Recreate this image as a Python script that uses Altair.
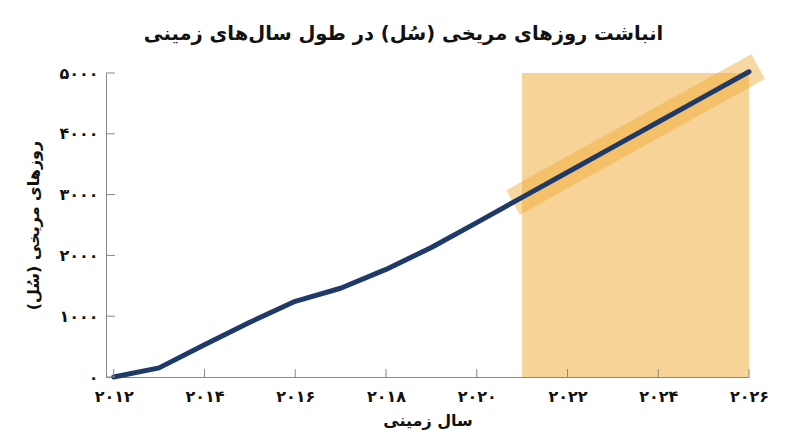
import altair as alt
import pandas as pd

# cumulative Martian sols at the start of each Earth year
years = [2012, 2013, 2014, 2015, 2016, 2017, 2018, 2019, 2020, 2021, 2022, 2023, 2024, 2025, 2026]
sols = [0, 150, 530, 900, 1245, 1460, 1770, 2130, 2540, 2955, 3368, 3781, 4194, 4607, 5020]

# shaded window and highlighted trend segment
window_years = [2021, 2026]
window_sols = [0, 5000]
band_years = [2020.8, 2026.2]
band_sols = [2870, 5105]

x_ticks = [2012, 2014, 2016, 2018, 2020, 2022, 2024, 2026]
x_tick_labels = ["۲۰۱۲", "۲۰۱۴", "۲۰۱۶", "۲۰۱۸", "۲۰۲۰", "۲۰۲۲", "۲۰۲۴", "۲۰۲۶"]
y_ticks = [0, 1000, 2000, 3000, 4000, 5000]
y_tick_labels = ["۰", "۱۰۰۰", "۲۰۰۰", "۳۰۰۰", "۴۰۰۰", "۵۰۰۰"]

title = "انباشت روزهای مریخی (سُل) در طول سال‌های زمینی"
x_title = "سال زمینی"
y_title = "روزهای مریخی (سُل)"

FONT = "DejaVu Sans"
W, H = 643, 304


def label_expr(values, labels):
    expr = "''"
    for v, lab in reversed(list(zip(values, labels))):
        expr = f"datum.value == {v} ? '{lab}' : ({expr})"
    return expr


x_scale = alt.Scale(domain=[2011.83, 2026], nice=False, zero=False)
y_scale = alt.Scale(domain=[0, 5000], nice=False)

x_axis = alt.Axis(
    title=x_title, values=x_ticks, labelExpr=label_expr(x_ticks, x_tick_labels),
    grid=False, ticks=False, tickSize=0, labelPadding=11, titlePadding=8,
    labelFlush=False, labelOverlap=False,
    labelFontSize=16, labelFontWeight="bold", titleFontSize=16, titleFontWeight="bold",
)
y_axis = alt.Axis(
    title=y_title, values=y_ticks, labelExpr=label_expr(y_ticks, y_tick_labels),
    grid=False, ticks=False, tickSize=0, labelPadding=8, titlePadding=17,
    labelFontSize=16, labelFontWeight="bold", titleFontSize=16, titleFontWeight="bold",
)

X = alt.X("year:Q", scale=x_scale, axis=x_axis)
Y = alt.Y("sols:Q", scale=y_scale, axis=y_axis)

line_df = pd.DataFrame({"year": years, "sols": sols})
window_df = pd.DataFrame({
    "year": [window_years[0]], "year_end": [window_years[1]],
    "sols": [window_sols[0]], "sols_end": [window_sols[1]],
})
band_df = pd.DataFrame({"year": band_years, "sols": band_sols})
xt_df = pd.DataFrame({"year": x_ticks})
yt_df = pd.DataFrame({"sols": y_ticks})

window = alt.Chart(window_df).mark_rect(color="#F0A830", opacity=0.5).encode(
    x=X, x2="year_end:Q", y=Y, y2="sols_end:Q"
)
band = alt.Chart(band_df).mark_line(
    color="#F0A830", opacity=0.45, strokeWidth=28, strokeCap="butt", strokeJoin="bevel"
).encode(x=X, y=Y)
line = alt.Chart(line_df).mark_line(
    color="#1f3a68", strokeWidth=5, strokeCap="round", strokeJoin="round"
).encode(x=X, y=Y)
xticks = alt.Chart(xt_df).mark_rule(color="#888888", strokeWidth=1).encode(
    x=X, y=alt.value(H), y2=alt.value(H - 8)
)
yticks = alt.Chart(yt_df).mark_rule(color="#888888", strokeWidth=1).encode(
    y=Y, x=alt.value(0), x2=alt.value(9)
)

chart = (
    alt.layer(window, band, line, xticks, yticks)
    .properties(
        width=W,
        height=H,
        autosize=alt.AutoSizeParams(type="none"),
        padding={"left": 98, "top": 65, "right": 30, "bottom": 60},
        title=alt.TitleParams(
            title, font=FONT, fontSize=19.5, fontWeight="bold", color="#111111",
            anchor="middle", offset=8, dx=-24,
        ),
    )
    .configure_view(stroke=None)
    .configure_axis(
        labelFont=FONT, titleFont=FONT, labelColor="#111111", titleColor="#111111",
        domainColor="#888888", domainWidth=1,
    )
)

chart.save("out.html", embed_options={"renderer": "svg", "actions": False})
